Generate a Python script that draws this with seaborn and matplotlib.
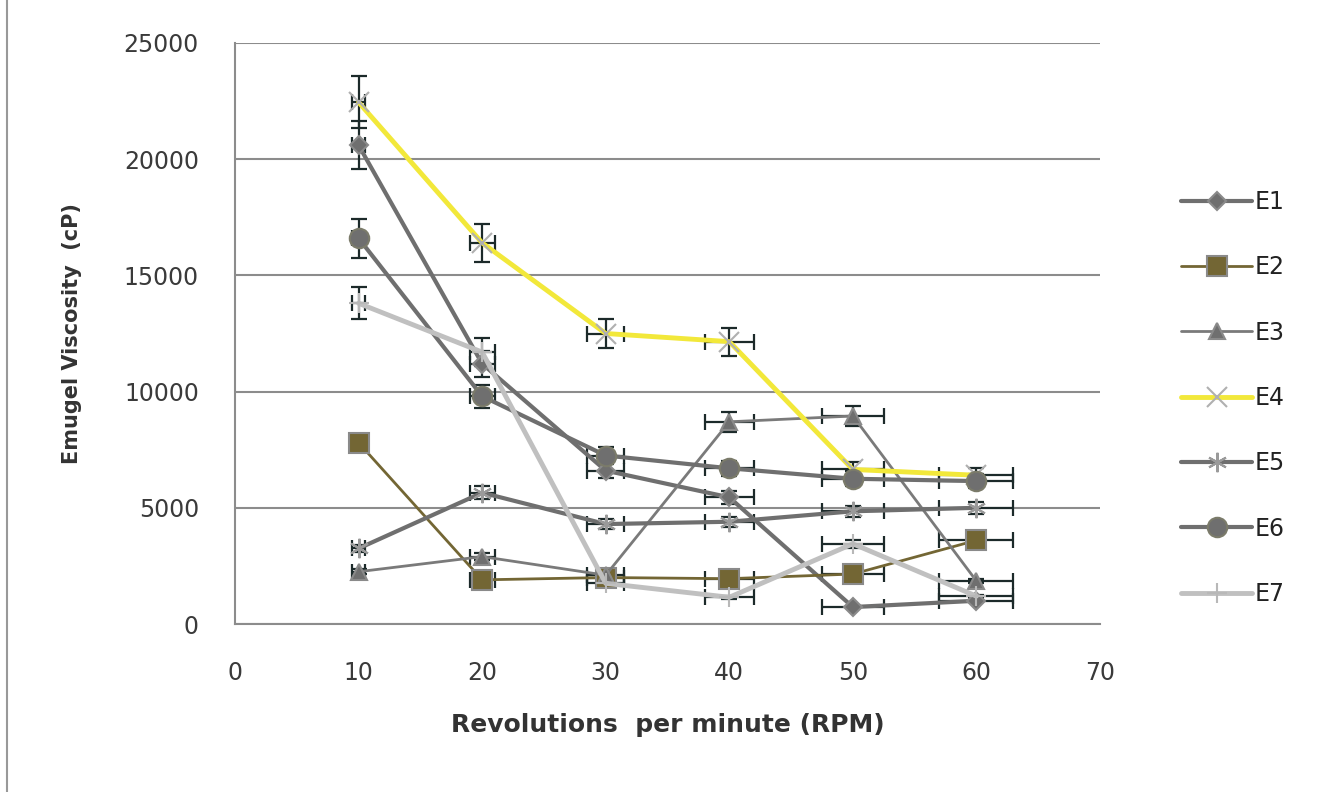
import numpy as np
import pandas as pd
import matplotlib
matplotlib.use("Agg")
import matplotlib.pyplot as plt
import seaborn as sns
from matplotlib.lines import Line2D

rpm = [10, 20, 30, 40, 50, 60]
e1 = [20600, 11200, 6600, 5450, 730, 1000]
e2 = [7800, 1900, 2000, 1950, 2150, 3600]
e3 = [2250, 2900, 2100, 8700, 8950, 1850]
e4 = [22450, 16400, 12500, 12150, 6650, 6400]
e5 = [3250, 5650, 4300, 4400, 4850, 5000]
e6 = [16600, 9800, 7250, 6700, 6250, 6150]
e7 = [13800, 11700, 1750, 1150, 3450, 1200]
series_names = ["E1", "E2", "E3", "E4", "E5", "E6", "E7"]
series_vals = [e1, e2, e3, e4, e5, e6, e7]
err_frac = 0.05  # 5% error bars, both directions

rows = []
for name, vals in zip(series_names, series_vals):
    for x, y in zip(rpm, vals):
        rows.append({"RPM": x, "Viscosity": y, "Series": name})
df = pd.DataFrame(rows)

# line colour, line width, marker, marker size, marker face, marker edge
styles = {
    "E1": ("#6f6f6f", 3.0, "D", 9, "#6f6f6f", "#8a8a8a"),
    "E2": ("#736634", 2.0, "s", 14, "#736634", "#8a8a8a"),
    "E3": ("#7a7a7a", 2.0, "^", 11, "#6f6f6f", "#8a8a8a"),
    "E4": ("#f2e83a", 3.5, "x", 14, "#b0b0b0", "#b0b0b0"),
    "E5": ("#6f6f6f", 3.0, (6, 2, 0), 14, "#6f6f6f", "#9a9a9a"),
    "E6": ("#6f6f6f", 3.0, "o", 14, "#6f6f6f", "#7b7b6a"),
    "E7": ("#c0c0c0", 3.5, "+", 14, "#b8b8b8", "#b8b8b8"),
}

sns.set_style("white")
plt.rcParams["font.family"] = ["DejaVu Sans"]

fig = plt.figure(figsize=(13.26, 7.92), dpi=100)
ax = fig.add_axes([235 / 1326, 1 - 624 / 792, 865 / 1326, 581 / 792])

handles = []
for name in series_names:
    col, lw, mk, ms, mfc, mec = styles[name]
    sub = df[df["Series"] == name]
    ax.errorbar(sub["RPM"], sub["Viscosity"],
                xerr=sub["RPM"] * err_frac, yerr=sub["Viscosity"] * err_frac,
                fmt="none", ecolor="#1c2a2a", elinewidth=1.6, capsize=6,
                capthick=1.6, zorder=2.5)
    sns.lineplot(data=sub, x="RPM", y="Viscosity", ax=ax, color=col, lw=lw,
                 marker=mk, markersize=ms, markerfacecolor=mfc,
                 markeredgecolor=mec, markeredgewidth=1.5, zorder=3)
    handles.append(Line2D([0], [0], color=col, lw=lw, marker=mk, markersize=ms,
                          markerfacecolor=mfc, markeredgecolor=mec,
                          markeredgewidth=1.5, label=name))

ax.set_xlim(0, 70)
ax.set_ylim(0, 25000)
ax.set_xticks(range(0, 71, 10))
ax.set_yticks(range(0, 25001, 5000))
ax.yaxis.grid(True, color="#8c8c8c", lw=1.5)
ax.xaxis.grid(False)
for side in ["top", "right"]:
    ax.spines[side].set_visible(False)
for side in ["left", "bottom"]:
    ax.spines[side].set_color("#8c8c8c")
    ax.spines[side].set_linewidth(1.5)
ax.tick_params(axis="both", labelsize=17, colors="#3a3a3a", length=0)
ax.tick_params(axis="x", pad=27)
ax.tick_params(axis="y", pad=26)
ax.set_xlabel("Revolutions  per minute (RPM)", fontsize=18, fontweight="bold",
              color="#333333", labelpad=20)
ax.set_ylabel("Emugel Viscosity  (cP)", fontsize=15, fontweight="bold",
              color="#333333", labelpad=30)

leg = fig.legend(handles=handles, loc="center left",
                 bbox_to_anchor=(1160 / 1326, 1 - 398 / 792), frameon=False,
                 fontsize=17, labelspacing=1.75, handlelength=3.0,
                 handletextpad=0.1, labelcolor="#222222")

fig.add_artist(Line2D([7 / 1326, 7 / 1326], [0, 1], color="#999999", lw=1.5))

fig.savefig("out.png", dpi=100)
